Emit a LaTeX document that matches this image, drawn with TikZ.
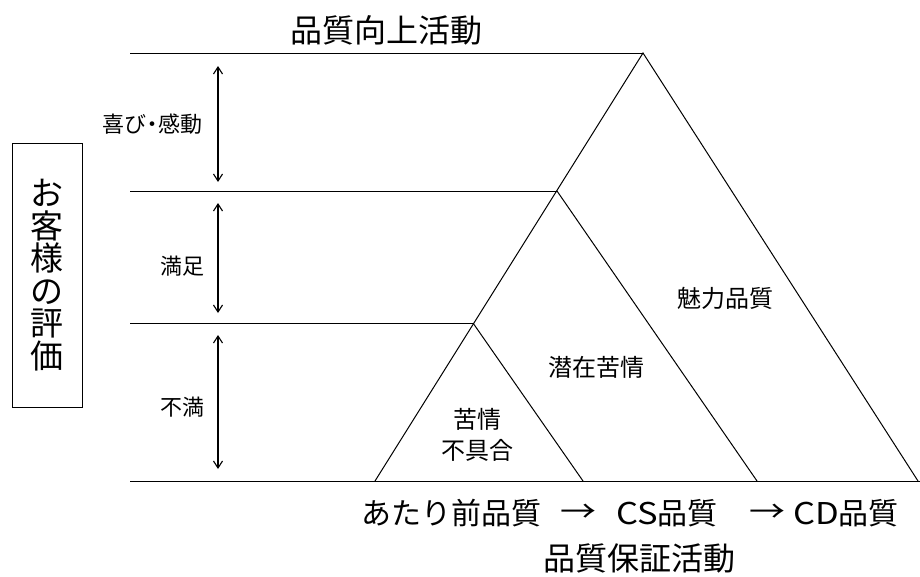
\documentclass[tikz,border=0pt]{standalone}
\usepackage{fontspec}
\setmainfont{Noto Sans CJK JP}
\usetikzlibrary{arrows.meta}
\tikzset{
  ln/.style={line width=1pt, black},
  dbl/.style={line width=1.1pt, {Straight Barb[length=7pt,width=9pt]}-{Straight Barb[length=7pt,width=9pt]}},
  lab/.style={font=\fontsize{22}{24}\selectfont, inner sep=0pt},
  inlab/.style={font=\fontsize{24}{27}\selectfont, inner sep=0pt, align=center},
  big/.style={font=\fontsize{32}{36}\selectfont, inner sep=0pt},
  flowtxt/.style={font=\fontsize{30}{34}\selectfont, inner sep=0pt},
}
\begin{document}
\begin{tikzpicture}[x=1pt,y=-1pt]
\useasboundingbox (0,0) rectangle (920,576);
% key points
\coordinate (L1) at (130,53);
\coordinate (L2) at (130,191);
\coordinate (L3) at (130,323);
\coordinate (L4) at (130,481);
\coordinate (A) at (643,53);
\coordinate (B) at (557,191);
\coordinate (C) at (473,323);
\coordinate (D) at (375,481);
\coordinate (E) at (583,481);
\coordinate (F) at (757,481);
\coordinate (G) at (918,481);
\coordinate (R) at (920,481);
% horizontal lines
\draw[ln] (L1) -- (A);
\draw[ln] (L2) -- (B);
\draw[ln] (L3) -- (C);
\draw[ln] (L4) -- (R);
% triangles
\draw[ln] (D) -- (A) -- (G);
\draw[ln] (B) -- (F);
\draw[ln] (C) -- (E);
% double arrows
\coordinate (a1t) at (218,66);
\coordinate (a1b) at (218,182);
\coordinate (a2t) at (218,203);
\coordinate (a2b) at (218,313);
\coordinate (a3t) at (218,335);
\coordinate (a3b) at (218,469);
\draw[dbl] (a1t) -- (a1b);
\draw[dbl] (a2t) -- (a2b);
\draw[dbl] (a3t) -- (a3b);
% labels
\node[lab] (yoro) at (152,124) {喜び\kern-5pt・\kern-5pt感動};
\node[lab] (manz) at (182,266) {満足};
\node[lab] (fuma) at (182,407) {不満};
% box
\node[draw, line width=1pt, minimum width=70pt, minimum height=264pt, inner sep=0pt,
      align=center, font=\fontsize{33}{32.5}\selectfont] (hyoka) at (47,275)
  {お\\客\\様\\の\\評\\価};
% title
\node[big] (kojo) at (386,30) {品質向上活動};
% inner labels
\node[inlab] (miryoku) at (725,298) {魅力品質};
\node[inlab] (senzai) at (596,367) {潜在苦情};
\node[inlab] (kujo) at (477,435) {苦情\\[4pt]不具合};
% bottom
\node[flowtxt, anchor=west] (q1) at (361,513) {あたり前品質};
\node[flowtxt] (ar1) at (578,513) {\scalebox{1.2}[1]{→}};
\node[flowtxt, anchor=west] (q2) at (616,513) {\scalebox{1.15}[1]{CS}品質};
\node[flowtxt] (ar2) at (767,513) {\scalebox{1.2}[1]{→}};
\node[flowtxt, anchor=west] (q3) at (793,513) {\scalebox{1.15}[1]{CD}品質};
\node[big] (hosho) at (639,558) {品質保証活動};
\end{tikzpicture}
\end{document}
